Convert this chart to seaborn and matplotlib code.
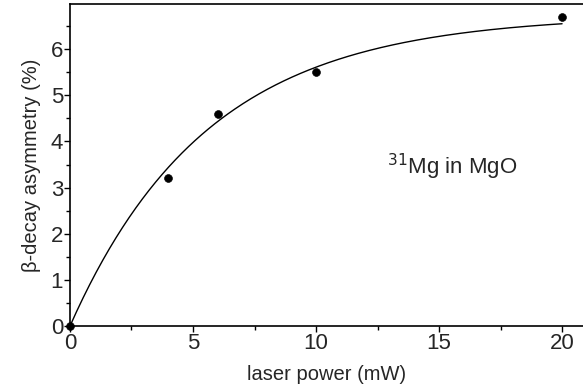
import numpy as np
import matplotlib
matplotlib.use("Agg")
import matplotlib.pyplot as plt
import seaborn as sns
from matplotlib.ticker import MultipleLocator

# data
laser_power = [0, 4, 6, 10, 20]
asymmetry = [0.0, 3.2, 4.6, 5.5, 6.7]
# saturation fit A*(1-exp(-P/P0))
fit_amplitude = 6.74
fit_scale = 5.6
fit_range = [0, 20]

sns.set_theme(style="ticks")
plt.rcParams['font.family'] = ['Liberation Sans', 'DejaVu Sans']

fig = plt.figure(figsize=(5.83, 3.92), dpi=100)
ax = fig.add_axes([0.12, 0.168, 0.88, 0.822])

p_fit = np.linspace(fit_range[0], fit_range[1], 300)
a_fit = fit_amplitude * (1 - np.exp(-p_fit / fit_scale))
sns.lineplot(x=p_fit, y=a_fit, ax=ax, color='black', linewidth=1.0)
sns.scatterplot(x=laser_power, y=asymmetry, ax=ax, color='black', s=32,
                edgecolor='black', zorder=3, clip_on=False)

ax.set_xlim(0, 20.85)
ax.set_ylim(0, 6.98)
ax.xaxis.set_major_locator(MultipleLocator(5))
ax.xaxis.set_minor_locator(MultipleLocator(2.5))
ax.yaxis.set_major_locator(MultipleLocator(1))
ax.yaxis.set_minor_locator(MultipleLocator(0.5))
ax.tick_params(which='major', direction='out', length=4, width=1, labelsize=16, color='black', pad=1)
ax.tick_params(which='minor', direction='out', length=3, width=1, color='black')
for s in ['left', 'bottom', 'top']:
    ax.spines[s].set_color('black')
    ax.spines[s].set_linewidth(1.2)
ax.spines['right'].set_visible(False)

ax.set_xlabel('laser power (mW)', fontsize=14.5, labelpad=8)
ax.set_ylabel('β-decay asymmetry (%)', fontsize=14.5, labelpad=7)
ax.text(12.9, 3.3, r'$^{31}$Mg in MgO', fontsize=16, ha='left', va='baseline')

fig.savefig('out.png', dpi=100)
